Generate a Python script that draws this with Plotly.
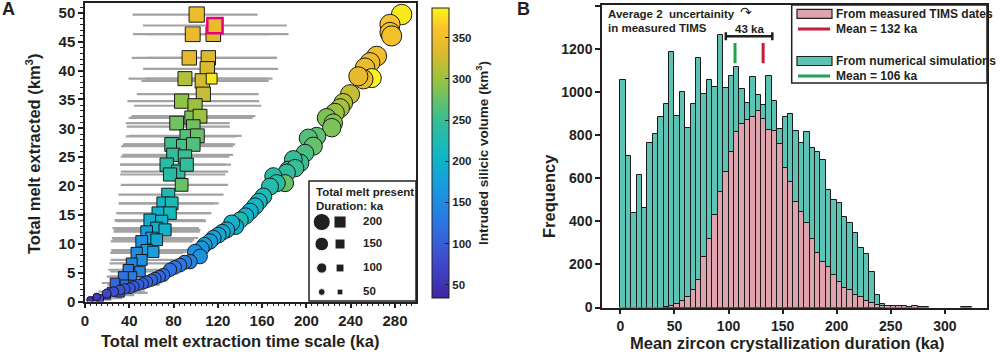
import plotly.graph_objects as go

# ================= Panel A data =================
# Squares (with grey x-uncertainty bars)
SQ_X = [100.9, 97.3, 115.9, 94.2, 111.4, 110.5, 90.3, 106.0, 114.4, 106.9, 87.3, 99.4, 96.4, 103.9,
        82.8, 97.8, 91.9, 101.5, 78.3, 88.8, 97.8, 79.8, 90.3, 73.8, 84.3, 91.9, 76.8, 87.3, 75.2,
        70.7, 78.3, 66.2, 76.8, 58.7, 69.3, 64.8, 55.7, 72.3, 60.2, 51.2, 64.8, 55.7, 61.7, 46.7,
        51.2, 42.2, 39.1, 49.7, 42.2, 34.6, 27.1, 36.1, 43.6, 24.1, 31.6, 19.6, 13.6, 9.0]
SQ_Y = [49.7, 46.3, 46.3, 42.2, 42.2, 40.3, 38.6, 38.2, 38.6, 35.9, 34.7, 33.9, 31.8, 32.1,
        30.9, 30.3, 28.6, 28.7, 27.2, 26.9, 27.2, 25.4, 25.1, 23.7, 22.5, 23.7, 22.0, 20.2, 18.5,
        17.0, 17.0, 15.3, 15.3, 14.1, 13.9, 12.7, 12.1, 12.4, 11.0, 10.4, 10.7, 8.9, 8.6, 8.4,
        7.2, 6.6, 5.5, 5.2, 4.3, 4.3, 3.2, 2.9, 2.9, 1.7, 1.5, 1.1, 0.6, 0.3]
SQ_VOL = [345, 340, 335, 335, 330, 330, 310, 325, 380, 320, 295, 300, 285, 300,
          280, 280, 265, 275, 255, 260, 265, 245, 250, 235, 240, 245, 235, 275, 220,
          210, 220, 200, 215, 195, 205, 195, 170, 200, 180, 160, 185, 170, 175, 150,
          155, 140, 130, 145, 130, 120, 110, 115, 120, 95, 100, 85, 70, 55]
SQ_DUR = [275, 265, 260, 255, 255, 255, 245, 255, 170, 250, 250, 250, 240, 240,
          240, 235, 235, 240, 240, 235, 235, 230, 230, 230, 225, 225, 225, 215, 220,
          215, 215, 210, 210, 200, 200, 200, 190, 200, 190, 190, 190, 180, 180, 180,
          170, 170, 160, 160, 150, 150, 140, 140, 130, 120, 115, 95, 75, 60]
SQ_ERR_MINUS = [58, 54, 60, 52, 55, 58, 51, 55, 60, 60, 49, 55, 57, 62,
                46, 60, 55, 62, 44, 56, 62, 46, 58, 42, 52, 60, 45, 55, 45,
                40, 48, 38, 48, 32, 42, 40, 30, 46, 36, 28, 40, 32, 38, 24,
                28, 20, 18, 27, 20, 15, 12, 16, 22, 12, 15, 10, 8, 5]
SQ_ERR_PLUS = [55, 70, 68, 79, 62, 64, 75, 60, 55, 50, 70, 60, 55, 50,
               48, 33, 45, 40, 55, 45, 38, 54, 40, 58, 45, 35, 50, 42, 50,
               50, 38, 48, 36, 50, 40, 38, 48, 32, 42, 46, 34, 38, 30, 42,
               36, 42, 40, 30, 35, 38, 36, 30, 24, 30, 25, 25, 20, 15]

# Highlighted square (pink outline)
HL_X = [117.4]
HL_Y = [47.8]
HL_VOL = [340]
HL_DUR = [275]
HL_ERR_MINUS = [65]
HL_ERR_PLUS = [65]

# Circles
CI_X = [286.0, 275.5, 275.5, 277.0, 263.5, 257.5, 253.0, 259.0, 251.4, 246.9, 239.4, 233.3, 230.4,
        225.8, 218.3, 224.3, 222.9, 209.3, 201.7, 206.2, 198.7, 194.2, 188.2, 183.7, 189.8, 182.2,
        170.1, 180.7, 173.2, 167.1, 161.1, 157.0, 153.6, 149.1, 145.0, 140.1, 136.0, 132.5, 128.0,
        124.0, 120.4, 116.0, 112.9, 108.0, 105.4, 99.4, 103.9, 94.9, 90.0, 85.8, 81.0, 76.8, 70.7,
        67.0, 63.2, 60.0, 55.7, 52.0, 48.1, 44.0, 40.6, 36.0, 31.6, 26.0, 19.6, 10.6, 4.5]
CI_Y = [49.7, 48.0, 46.6, 46.0, 42.5, 41.4, 40.5, 38.7, 38.5, 39.0, 35.9, 34.4, 33.5,
        32.7, 31.8, 30.9, 30.1, 28.6, 28.3, 26.9, 25.7, 24.0, 24.6, 22.8, 23.1, 22.3,
        21.7, 20.5, 20.5, 19.9, 18.2, 17.3, 16.5, 15.6, 14.8, 14.1, 13.0, 13.6, 12.4,
        12.0, 11.5, 11.0, 10.4, 9.8, 9.2, 8.6, 7.8, 6.9, 6.8, 6.3, 5.9, 5.5, 4.6,
        4.3, 4.0, 3.7, 3.4, 3.1, 2.9, 2.6, 2.3, 2.2, 2.0, 1.7, 1.4, 0.8, 0.3]
CI_VOL = [380, 360, 355, 355, 350, 345, 345, 385, 340, 340, 320, 310, 305,
          300, 285, 290, 285, 270, 265, 275, 260, 250, 245, 240, 250, 240,
          230, 275, 235, 230, 220, 215, 210, 200, 205, 225, 195, 200, 190,
          190, 185, 180, 175, 170, 165, 160, 160, 140, 135, 125, 125, 120, 115,
          112, 110, 108, 105, 102, 100, 98, 95, 90, 85, 80, 75, 60, 50]
CI_DUR = [250, 245, 245, 245, 240, 240, 235, 230, 235, 230, 230, 225, 225,
          225, 225, 220, 220, 215, 215, 215, 210, 210, 210, 205, 205, 205,
          200, 200, 200, 200, 195, 195, 195, 190, 190, 190, 185, 185, 185,
          180, 180, 175, 175, 170, 170, 170, 165, 160, 155, 150, 150, 145, 140,
          135, 130, 128, 125, 120, 115, 110, 105, 100, 95, 90, 80, 60, 45]

LEGEND_DUR = [200, 150, 100, 50]
A_XTICKS = [0, 40, 80, 120, 160, 200, 240, 280]
A_YTICKS = [0, 5, 10, 15, 20, 25, 30, 35, 40, 45, 50]
CB_TICKS = [50, 100, 150, 200, 250, 300, 350]

# ================= Panel B data =================
BIN_WIDTH = 5
SIM_COUNTS = [1056, 705, 437, 615, 460, 765, 808, 886, 943, 1185, 889, 999, 832, 945, 1157, 990,
              1056, 1022, 1268, 1018, 1075, 1115, 1013, 948, 1071, 987, 940, 1076, 959, 827, 886,
              898, 821, 762, 816, 739, 723, 685, 545, 499, 487, 422, 391, 347, 275, 247, 166, 58, 14]
TIMS_COUNTS = [0, 0, 0, 0, 0, 0, 0, 0, 2, 6, 16, 30, 50, 81, 128, 236, 318, 429, 538, 631, 720,
               813, 852, 870, 883, 914, 875, 824, 821, 759, 646, 584, 491, 442, 391, 318, 252,
               213, 190, 151, 120, 92, 81, 58, 47, 32, 22, 12, 8, 6, 7, 7, 6, 3, 5, 2, 1,
               0, 0, 0, 0, 0, 0, 2, 1]
MEAN_TIMS = 132
MEAN_SIM = 106
UNCERT_2S = 43
B_XTICKS = [0, 50, 100, 150, 200, 250, 300]
B_YTICKS = [0, 200, 400, 600, 800, 1000, 1200, 1400]

# ================= styling =================
W, H = 1000, 359
INK = "#231f20"
FONT = "Liberation Sans, Arial, sans-serif"
TEAL = "#5cc3b5"
PINK = "#dfa3ad"
RED = "#c0203a"
GREEN = "#1fa34f"
GREY = "#a3a3a3"
PARULA = [
    [0.00, "rgb(62,38,160)"], [0.12, "rgb(64,72,205)"], [0.25, "rgb(45,115,225)"],
    [0.38, "rgb(22,155,225)"], [0.50, "rgb(16,185,195)"], [0.62, "rgb(58,190,145)"],
    [0.75, "rgb(150,195,65)"], [0.85, "rgb(225,185,45)"], [0.93, "rgb(250,195,45)"],
    [1.00, "rgb(248,245,25)"],
]


def px(xp):
    return xp / W


def py(yp):
    return 1 - yp / H


def circle_size(d):
    return 3.5 + 0.068 * d


def square_size(d):
    return 3.7 + 0.042 * d


def bfont(size, color=INK):
    return dict(family=FONT, size=size, color=color, weight="bold")


fig = go.Figure()

# ---- Panel A traces ----
fig.add_trace(go.Scatter(
    x=SQ_X, y=SQ_Y, mode="markers", xaxis="x", yaxis="y",
    error_x=dict(type="data", symmetric=False, array=SQ_ERR_PLUS, arrayminus=SQ_ERR_MINUS,
                 color=GREY, thickness=2.2, width=0),
    marker=dict(symbol="square", size=[square_size(d) for d in SQ_DUR], color=SQ_VOL,
                coloraxis="coloraxis", line=dict(color="#1a1a1a", width=1), opacity=1),
    showlegend=False))
fig.add_trace(go.Scatter(
    x=HL_X, y=HL_Y, mode="markers", xaxis="x", yaxis="y",
    error_x=dict(type="data", symmetric=False, array=HL_ERR_PLUS, arrayminus=HL_ERR_MINUS,
                 color=GREY, thickness=2.2, width=0),
    marker=dict(symbol="square", size=[square_size(d) for d in HL_DUR], color=HL_VOL,
                coloraxis="coloraxis", line=dict(color="#e6007e", width=2.5), opacity=1),
    showlegend=False))
fig.add_trace(go.Scatter(
    x=CI_X, y=CI_Y, mode="markers", xaxis="x", yaxis="y",
    marker=dict(symbol="circle", size=[circle_size(d) for d in CI_DUR], color=CI_VOL,
                coloraxis="coloraxis", line=dict(color="#1a1a1a", width=1), opacity=1),
    showlegend=False))

# legend markers for panel A (auxiliary axes)
LEG_ROWS = [0.658, 0.475, 0.275, 0.075]
fig.add_trace(go.Scatter(
    x=[0.119] * 4, y=LEG_ROWS, mode="markers", xaxis="x3", yaxis="y3",
    marker=dict(symbol="circle", size=[circle_size(d) for d in LEGEND_DUR], color=INK, opacity=1),
    showlegend=False, hoverinfo="skip"))
fig.add_trace(go.Scatter(
    x=[0.29] * 4, y=LEG_ROWS, mode="markers", xaxis="x3", yaxis="y3",
    marker=dict(symbol="square", size=[square_size(d) for d in LEGEND_DUR], color=INK, opacity=1),
    showlegend=False, hoverinfo="skip"))
fig.add_trace(go.Scatter(
    x=[0.505] * 4, y=LEG_ROWS, mode="text", xaxis="x3", yaxis="y3",
    text=[str(d) for d in LEGEND_DUR], textposition="middle right",
    textfont=bfont(11.5), showlegend=False, hoverinfo="skip"))

# ---- Panel B traces ----
sim_x = [BIN_WIDTH * i + BIN_WIDTH / 2 for i in range(len(SIM_COUNTS))]
tims_x = [BIN_WIDTH * i + BIN_WIDTH / 2 for i in range(len(TIMS_COUNTS))]
fig.add_trace(go.Bar(
    x=sim_x, y=[c if c > 0 else None for c in SIM_COUNTS], width=BIN_WIDTH,
    xaxis="x2", yaxis="y2", marker=dict(color=TEAL, line=dict(color="#1a1a1a", width=1)),
    showlegend=False))
fig.add_trace(go.Bar(
    x=tims_x, y=[c if c > 0 else None for c in TIMS_COUNTS], width=BIN_WIDTH,
    xaxis="x2", yaxis="y2", marker=dict(color=PINK, line=dict(color="#1a1a1a", width=1)),
    showlegend=False))

# ---- axes ----
common = dict(showline=True, mirror=True, linecolor=INK, linewidth=1.5, showgrid=False,
              zeroline=False, ticks="outside", tickcolor=INK, tickwidth=1.5, automargin=False)

layout = dict(
    width=W, height=H, margin=dict(l=0, r=0, t=0, b=0),
    paper_bgcolor="white", plot_bgcolor="white", barmode="overlay", bargap=0,
    font=dict(family=FONT, color=INK),
    xaxis=dict(domain=[px(85), px(416)], range=[0, 299], anchor="y", tickvals=A_XTICKS,
               ticklen=5, tickfont=bfont(15),
               minor=dict(dtick=5, ticks="outside", ticklen=3, tickwidth=1, tickcolor=INK),
               **common),
    yaxis=dict(domain=[py(301.5), py(3)], range=[0, 51.7], anchor="x", tickvals=A_YTICKS,
               ticklen=5, tickfont=bfont(15),
               minor=dict(dtick=1, ticks="outside", ticklen=3, tickwidth=1, tickcolor=INK),
               **common),
    xaxis2=dict(domain=[px(602), px(987)], range=[-17, 339], anchor="y2", tickvals=B_XTICKS,
                ticklen=5, tickfont=bfont(14), **common),
    yaxis2=dict(domain=[py(307.5), py(5)], range=[0, 1405], anchor="x2", tickvals=B_YTICKS,
                ticklen=5, tickfont=bfont(14), **common),
    xaxis3=dict(domain=[px(309), px(416)], range=[0, 1], visible=False, anchor="y3"),
    yaxis3=dict(domain=[py(301), py(181)], range=[0, 1], visible=False, anchor="x3"),
    coloraxis=dict(
        colorscale=PARULA, cmin=34, cmax=386,
        colorbar=dict(
            x=px(432), xanchor="left", y=py(153), yanchor="middle", len=290 / H,
            lenmode="fraction", thickness=17, xpad=0, ypad=0,
            outlinewidth=1, outlinecolor=INK, tickvals=CB_TICKS, ticks="inside",
            ticklen=4, tickcolor=INK, tickfont=bfont(11.5),
            title=dict(text="Intruded silicic volume (km<sup>3</sup>)", side="right",
                       font=bfont(13.5)),
        ),
    ),
)
fig.update_layout(**layout)

shapes = []
# Panel A legend box
shapes.append(dict(type="rect", xref="paper", yref="paper", x0=px(309), x1=px(416),
                   y0=py(301), y1=py(181), line=dict(color=INK, width=1.5),
                   fillcolor="rgba(0,0,0,0)", layer="above"))
# Panel B legend box
shapes.append(dict(type="rect", xref="paper", yref="paper", x0=px(791.7), x1=px(987),
                   y0=py(83), y1=py(5), line=dict(color=INK, width=1.5), fillcolor="white"))
shapes.append(dict(type="rect", xref="paper", yref="paper", x0=px(797), x1=px(832),
                   y0=py(18.3), y1=py(9.3), line=dict(color=INK, width=1.2), fillcolor=PINK))
shapes.append(dict(type="line", xref="paper", yref="paper", x0=px(798), x1=px(830),
                   y0=py(29), y1=py(29), line=dict(color=RED, width=3)))
shapes.append(dict(type="rect", xref="paper", yref="paper", x0=px(797), x1=px(832),
                   y0=py(65.5), y1=py(56.5), line=dict(color=INK, width=1.2), fillcolor=TEAL))
shapes.append(dict(type="line", xref="paper", yref="paper", x0=px(798), x1=px(830),
                   y0=py(76), y1=py(76), line=dict(color=GREEN, width=3)))
# mean markers
shapes.append(dict(type="line", xref="x2", yref="y2", x0=MEAN_SIM, x1=MEAN_SIM,
                   y0=1135, y1=1228, line=dict(color=GREEN, width=3)))
shapes.append(dict(type="line", xref="x2", yref="y2", x0=MEAN_TIMS, x1=MEAN_TIMS,
                   y0=1135, y1=1228, line=dict(color=RED, width=3)))
# 2-sigma uncertainty bar with caps
u_mid = (MEAN_SIM + MEAN_TIMS) / 2
u_lo, u_hi = u_mid - UNCERT_2S / 2, u_mid + UNCERT_2S / 2
shapes.append(dict(type="line", xref="x2", yref="y2", x0=u_lo, x1=u_hi, y0=1260, y1=1260,
                   line=dict(color=INK, width=2.5)))
for xc in (u_lo, u_hi):
    shapes.append(dict(type="line", xref="x2", yref="y2", x0=xc, x1=xc, y0=1241, y1=1279,
                       line=dict(color=INK, width=2.5)))
fig.update_layout(shapes=shapes)

ann = []


def note(text, xp, yp, size, xanchor="left", angle=0, yanchor="middle"):
    ann.append(dict(text=text, x=px(xp), y=py(yp), xref="paper", yref="paper",
                    showarrow=False, xanchor=xanchor, yanchor=yanchor, textangle=angle,
                    font=bfont(size)))


note("A", 8, 9, 18, "center")
note("B", 523, 9, 18, "center")
note("Total melt extracted (km<sup>3</sup>)", 33, 154, 16.5, "center", -90)
note("Total melt extraction time scale (ka)", 240, 341, 16.5, "center")
note("Frequency", 549, 196, 16.5, "center", -90)
note("Mean zircon crystallization duration (ka)", 787, 343, 16.5, "center")
note("Total melt present", 314, 192, 11.5)
note("Duration: ka", 314, 206, 11.5)
note("From measured TIMS dates", 834, 14, 12)
note("Mean = 132 ka", 834, 29, 12)
note("From numerical simulations", 834, 61, 12)
note("Mean = 106 ka", 834, 76, 12)
note("Average 2  uncertainity", 606, 14, 11.5)
note("in measured TIMS", 606, 28, 11.5)
ann.append(dict(text="↷", x=px(746), y=py(12), xref="paper", yref="paper", showarrow=False,
                xanchor="center", yanchor="middle",
                font=dict(family="DejaVu Sans", size=14, color=INK)))
ann.append(dict(text="43 ka", x=u_mid, y=1292, xref="x2", yref="y2",
                showarrow=False, xanchor="center", yanchor="middle", font=bfont(11.5)))
fig.update_layout(annotations=ann)

fig.write_html("out.html", config={"displayModeBar": False},
               post_script="document.body.style.margin='0';")
